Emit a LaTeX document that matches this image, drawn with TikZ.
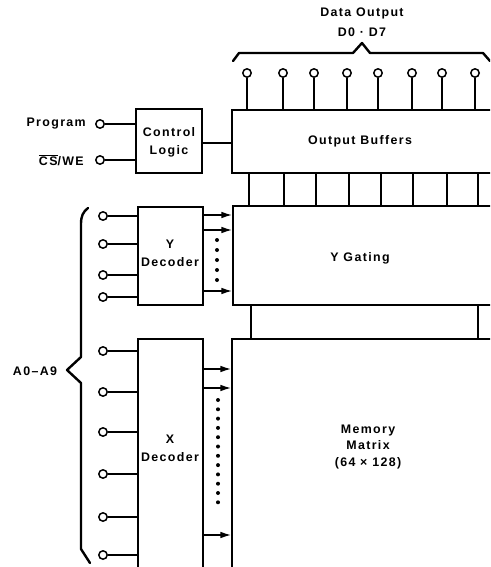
\documentclass[tikz,border=0pt]{standalone}
\usepackage{fontspec}
\setmainfont{Liberation Sans}[LetterSpace=11]
\usetikzlibrary{arrows.meta,fit}
\begin{document}
\begin{tikzpicture}[x=0.75pt,y=-0.75pt,
  blk/.style={draw, line width=1.3pt, inner sep=0pt},
  pinc/.style={circle, draw, line width=1.1pt, inner sep=0pt, minimum size=6.3pt, fill=white},
  wire/.style={line width=1.1pt},
  arr/.style={line width=1.1pt, -{Latex[length=8pt,width=5pt]}},
  brace/.style={line width=1.8pt, line join=round, line cap=round},
  lbl/.style={font=\fontsize{9.3}{10.5}\selectfont\bfseries, inner sep=0pt, align=center},
  dotm/.style={fill=black}]
\useasboundingbox (0,0) rectangle (490,567);
\clip (0,0) rectangle (490,567);

% main blocks
\node[blk, fit={(232,110) (500,173)}] (ob) {};
\node[blk, fit={(233,206) (500,305)}] (yg) {};
\node[blk, fit={(232,339) (500,580)}] (mm) {};
\node[blk, fit={(136,109) (202,173)}] (cl) {};
\node[blk, fit={(138,207) (203,305)}] (yd) {};
\node[blk, fit={(138,339) (203,580)}] (xd) {};

% block labels
\node[lbl] (tob) at (360,141) {Output Buffers};
\node[lbl] (tyg) at (360,258) {Y Gating};
\node[lbl] (tmm) at (368,447) {Memory\\[2pt]Matrix\\[2pt](64 × 128)};
\node[lbl] (tcl) at (169,142) {Control\\[3pt]Logic};
\node[lbl] (tyd) at (170,253) {Y\\[3pt]Decoder};
\node[lbl] (txd) at (170,448) {X\\[3pt]Decoder};

% cells between output buffers and Y gating
\foreach \x in {249,284,316,349,381,413,447,478}
  \draw[line width=1.3pt] (\x,173) -- (\x,206);
% strip between Y gating and memory matrix
\foreach \x in {251,478}
  \draw[line width=1.3pt] (\x,305) -- (\x,339);

% data output pins
\foreach \x [count=\i] in {247,283,314,347,378,412,442,475} {
  \node[pinc] (d\i) at (\x,73) {};
  \draw[wire] (d\i.south) -- (d\i |- ob.north);
}
\node[lbl] (tdo) at (362,13) {Data Output};
\node[lbl] (tdd) at (362,32) {D0 · D7};
\draw[brace] (233,61) -- (239,53) -- (353,53) -- (362,43) -- (370,53) -- (483,53) -- (490,61);

% control logic inputs
\node[pinc] (prog) at (100,124) {};
\node[pinc] (cswe) at (100,160) {};
\node[lbl, anchor=east] (tprog) at (86,124) {Program};
\node[lbl, anchor=east] (tcswe) at (84,160) {$\overline{\hbox{CS}}$/WE};
\draw[wire] (prog) -- (prog -| cl.west);
\draw[wire] (cswe) -- (cswe -| cl.west);
\coordinate (clo) at (0,143);
\draw[wire] (cl.east |- clo) -- (ob.west |- clo);

% Y decoder inputs
\foreach \y [count=\i] in {216,244,275,297} {
  \node[pinc] (ya\i) at (103,\y) {};
  \draw[wire] (ya\i) -- (ya\i -| yd.west);
}
% Y decoder outputs
\foreach \y [count=\i] in {215,230,291} {
  \coordinate (yo\i) at (0,\y);
  \draw[arr] (yd.east |- yo\i) -- (yg.west |- yo\i);
}
\foreach \y in {240,250,260,270,280}
  \fill[dotm] (217,\y) circle (1.5pt);

% X decoder inputs
\foreach \y [count=\i] in {351,392,432,474,517,555} {
  \node[pinc] (xa\i) at (103,\y) {};
  \draw[wire] (xa\i) -- (xa\i -| xd.west);
}
% X decoder outputs
\foreach \y [count=\i] in {369,388,535} {
  \coordinate (xo\i) at (0,\y);
  \draw[arr] (xd.east |- xo\i) -- (mm.west |- xo\i);
}
\foreach \y in {400,409.3,418.6,427.9,437.2,446.5,455.8,465.1,474.4,483.7,493,502.3}
  \fill[dotm] (218,\y) circle (1.5pt);

% address brace
\draw[brace] (88,208) .. controls (83,212) and (81,216) .. (81,224) -- (81,357) -- (67,370) -- (81,383) -- (81,549) -- (90,563);
\node[lbl] (tad) at (35,371) {A0–A9};
\end{tikzpicture}
\end{document}
